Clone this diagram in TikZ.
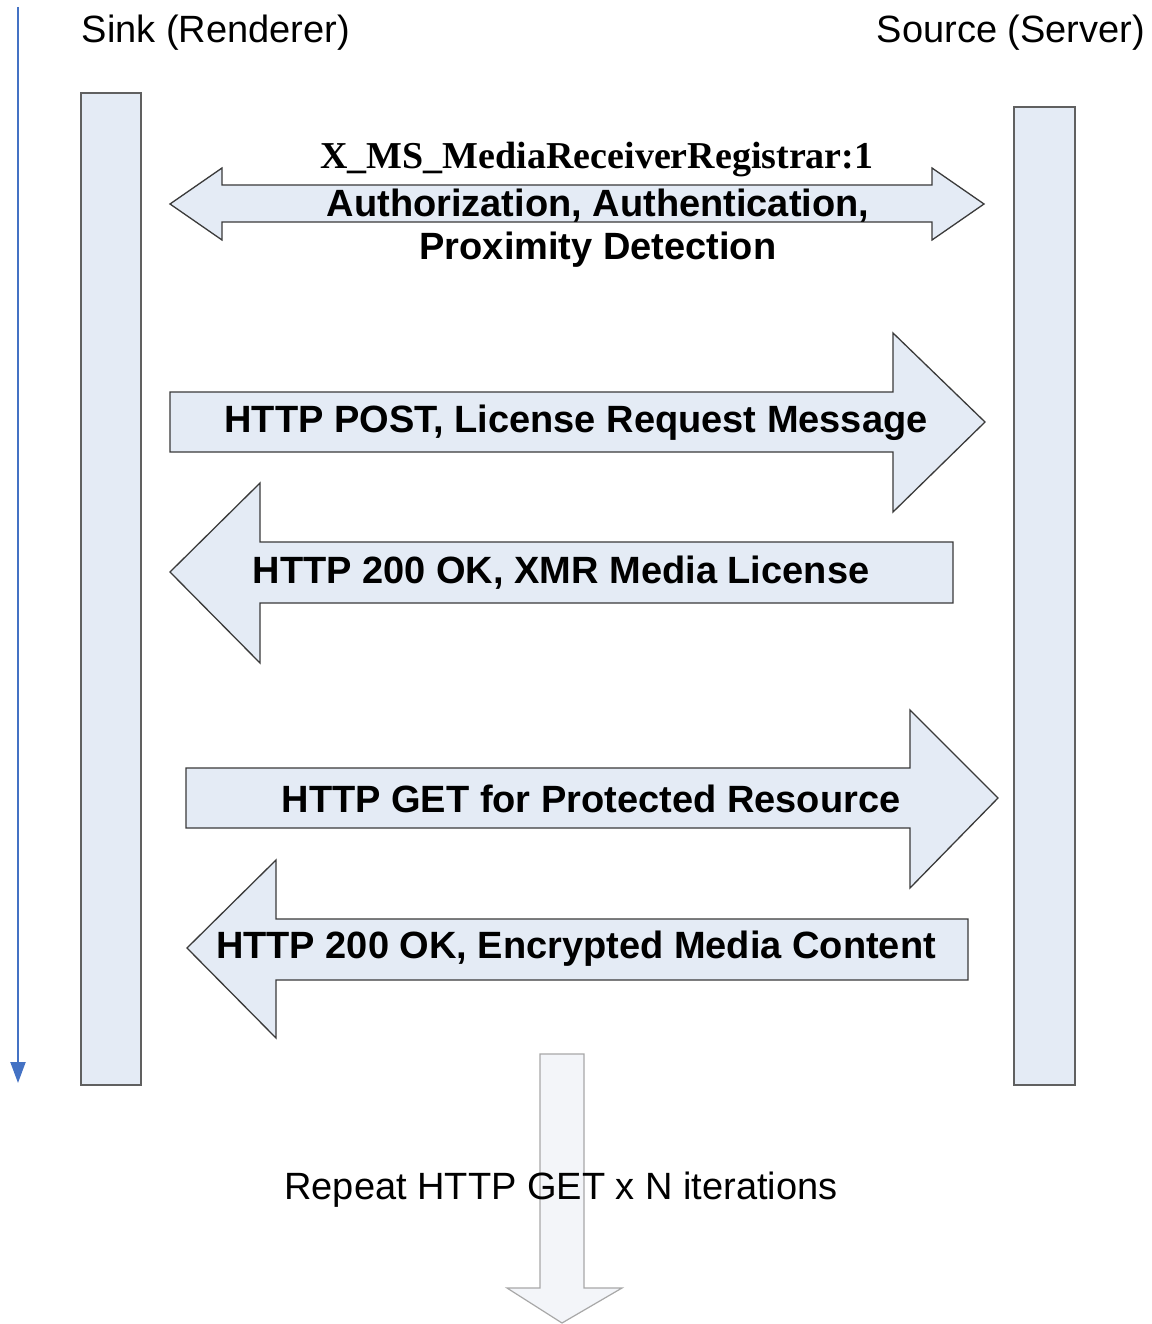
\documentclass[tikz,border=0pt]{standalone}
\usepackage{fontspec}
\setmainfont{Liberation Sans}
\newfontfamily\timesfont{Liberation Serif}
\usetikzlibrary{arrows.meta}
\definecolor{barfill}{HTML}{E4EBF5}
\definecolor{barline}{HTML}{606060}
\definecolor{arrline}{HTML}{3A3A3A}
\definecolor{downfill}{HTML}{F3F5F9}
\definecolor{downline}{HTML}{A8A8A8}
\definecolor{timeblue}{HTML}{4472C4}
\begin{document}
\begin{tikzpicture}[x=1pt,y=-1pt,
  bar/.style={draw=barline, fill=barfill, line width=1.6pt, anchor=north west, inner sep=0pt},
  bigarrow/.style={draw=arrline, fill=barfill, line width=1.3pt, line join=miter},
  downarrow/.style={draw=downline, fill=downfill, line width=1.2pt},
  lbl/.style={font=\fontsize{38}{44}\selectfont\bfseries, inner sep=0pt, anchor=center, yshift=-3pt},
  head/.style={font=\fontsize{38}{44}\selectfont, inner sep=0pt, anchor=center, yshift=-3pt}]
\useasboundingbox (0,0) rectangle (1151,1324);
\fill[white] (0,0) rectangle (1151,1324);

% time line
\coordinate (tstart) at (18,7);
\coordinate (tend) at (18,1083);
\draw[timeblue, line width=2pt, -{Triangle[length=21pt,width=15pt]}] (tstart) -- (tend);

% headings
\node[head] (sinklbl) at (216,30) {Sink (Renderer)};
\node[head] (srclbl) at (1011,30) {Source (Server)};

% lifelines
\node[bar, minimum width=60pt, minimum height=992pt] (sink) at (80,92) {};
\node[bar, minimum width=61pt, minimum height=978pt] (source) at (1013,106) {};

% double arrow
\draw[bigarrow] (170,204) -- (222,168) -- (222,185) -- (932,185) -- (932,168) -- (984,204)
  -- (932,240) -- (932,222) -- (222,222) -- (222,240) -- cycle;
\node[lbl, font=\fontsize{38}{44}\selectfont\timesfont\bfseries] (reg) at (597,157) {X\_MS\_MediaReceiverRegistrar:1};
\node[lbl] (auth) at (598,203) {Authorization, Authentication,};
\node[lbl] (prox) at (598,247) {Proximity Detection};

% HTTP POST
\draw[bigarrow] (170,392) -- (893,392) -- (893,333) -- (985,422) -- (893,512) -- (893,452) -- (170,452) -- cycle;
\node[lbl] (post) at (576,420) {HTTP POST, License Request Message};

% HTTP 200 OK XMR
\draw[bigarrow] (953,542) -- (260,542) -- (260,483) -- (170,572) -- (260,663) -- (260,603) -- (953,603) -- cycle;
\node[lbl] (xmr) at (561,570) {HTTP 200 OK, XMR Media License};

% HTTP GET
\draw[bigarrow] (186,768) -- (910,768) -- (910,710) -- (998,798) -- (910,888) -- (910,828) -- (186,828) -- cycle;
\node[lbl] (get) at (591,796) {HTTP GET for Protected Resource};

% HTTP 200 OK Encrypted
\draw[bigarrow] (968,919) -- (276,919) -- (276,860) -- (187,948) -- (276,1038) -- (276,980) -- (968,980) -- cycle;
\node[lbl] (enc) at (576,946) {HTTP 200 OK, Encrypted Media Content};

% repeat arrow
\draw[downarrow] (540,1054) -- (584,1054) -- (584,1288) -- (622,1288) -- (562,1323) -- (507,1288) -- (540,1288) -- cycle;
\node[head] (repeat) at (561,1187) {Repeat HTTP GET x N iterations};
\end{tikzpicture}
\end{document}
